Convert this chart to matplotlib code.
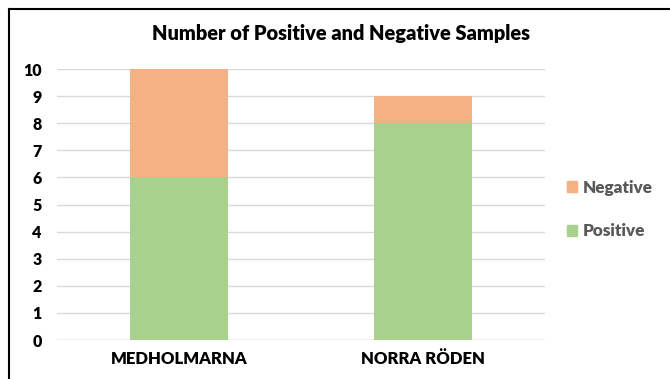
import matplotlib
matplotlib.use("Agg")
import matplotlib.pyplot as plt
from matplotlib.lines import Line2D
from matplotlib.patches import Patch
import numpy as np

# amostras por local
locais = ["MEDHOLMARNA", "NORRA RÖDEN"]
positivos = [6, 8]
negativos = [4, 1]
ticks_y = list(range(0, 11))

cor_pos = "#A9D18E"
cor_neg = "#F4B183"

plt.rcParams["font.family"] = ["Lato", "DejaVu Sans"]

fig = plt.figure(figsize=(6.7, 3.79), dpi=100)
ax = fig.add_axes([0.085, 0.1029, 0.728, 0.715])

x = np.arange(len(locais))
ax.bar(x, positivos, width=0.4, color=cor_pos, zorder=2)
ax.bar(x, negativos, width=0.4, bottom=positivos, color=cor_neg, zorder=2)

ax.set_xlim(-0.5, 1.5)
ax.set_ylim(0, 10)
ax.set_yticks(ticks_y)
ax.set_yticklabels([str(t) for t in ticks_y], fontsize=11.5, fontweight="heavy")
ax.set_xticks(x)
ax.set_xticklabels(locais, fontsize=12, fontweight="heavy")
ax.tick_params(length=0)
ax.tick_params(axis="y", pad=11)
ax.tick_params(axis="x", pad=8)
ax.grid(axis="y", color="#D9D9D9", linewidth=1, zorder=0)
for s in ax.spines.values():
    s.set_visible(False)
ax.axhline(0, color="#D9D9D9", linewidth=1, zorder=1)

fig.text(0.509, 0.912, "Number of Positive and Negative Samples",
         ha="center", va="center", fontsize=14.4, fontweight="heavy")

# legenda
handles = [Patch(color=cor_neg, label="Negative"), Patch(color=cor_pos, label="Positive")]
leg = fig.legend(handles=handles, loc="center left", bbox_to_anchor=(0.823, 0.447),
                 frameon=False, handlelength=0.6, handleheight=0.6, handletextpad=0.35,
                 labelspacing=1.6, prop={"size": 12.3, "weight": "heavy"})
for t in leg.get_texts():
    t.set_color("#595959")

# moldura (so esquerda e topo)
fig.add_artist(Line2D([0.0137, 0.0137], [0.0, 0.9763], transform=fig.transFigure,
                      color="black", linewidth=1.5))
fig.add_artist(Line2D([0.0137, 1.0], [0.9763, 0.9763], transform=fig.transFigure,
                      color="black", linewidth=1.5))

fig.savefig("out.png", dpi=100)
